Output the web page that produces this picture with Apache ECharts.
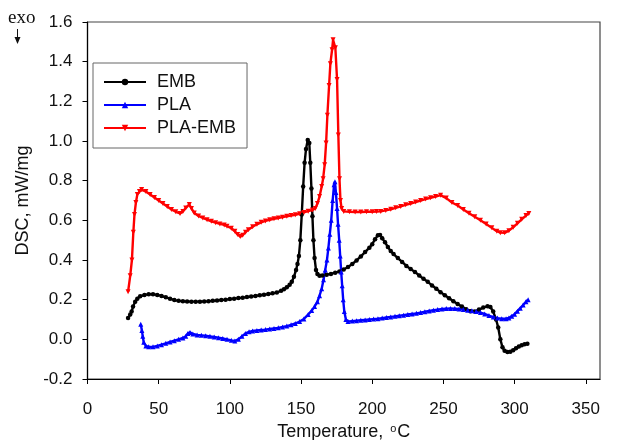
<!DOCTYPE html>
<html>
<head>
<meta charset="utf-8">
<script src="https://cdn.jsdelivr.net/npm/echarts@6/dist/echarts.min.js"></script>
<style>html,body{margin:0;padding:0;background:#fff}#c{width:618px;height:440px}</style>
</head>
<body>
<div id="c"></div>
<script>
const xTicks = [0, 50, 100, 150, 200, 250, 300, 350];
const seriesNames = ['EMB', 'PLA', 'PLA-EMB'];

const embT = [28.5,30,31,32,33.5,35,37,40,43,46,49,52,55,58,61,64,67,70,73,76,79,82,85,88,91,94,97,100,103,106,109,112,115,118,121,124,127,130,133,136,138,140,142,143.5,145,146.5,147.5,148.5,149.5,150.5,151.5,152.5,153.5,154.7,155.8,156.5,157.3,158,158.7,159.5,160.5,161.5,163,165,168,171,174,177,180,183,186,189,192,195,198,200,202,204,205.5,207,209,211,213,215,218,221,224,227,230,233,236,239,242,245,248,251,254,257,260,263,266,269,272,275,278,281,283,285,287,288.5,290,291.5,293,295,297,299,301,303,305,307,309];
const embV = [0.108,0.125,0.14,0.165,0.19,0.205,0.217,0.224,0.227,0.227,0.224,0.219,0.212,0.205,0.198,0.194,0.192,0.191,0.19,0.19,0.19,0.191,0.192,0.194,0.196,0.198,0.2,0.203,0.205,0.208,0.21,0.213,0.216,0.219,0.222,0.225,0.228,0.232,0.236,0.245,0.252,0.262,0.275,0.29,0.315,0.35,0.38,0.42,0.5,0.63,0.77,0.89,0.96,1.005,0.99,0.89,0.76,0.62,0.5,0.41,0.35,0.33,0.32,0.322,0.326,0.33,0.336,0.342,0.352,0.365,0.38,0.398,0.418,0.44,0.462,0.48,0.505,0.525,0.526,0.51,0.49,0.465,0.445,0.43,0.41,0.39,0.37,0.355,0.34,0.322,0.305,0.29,0.272,0.255,0.238,0.222,0.207,0.192,0.178,0.165,0.152,0.142,0.14,0.15,0.16,0.167,0.163,0.14,0.1,0.06,0.0,-0.04,-0.058,-0.064,-0.062,-0.055,-0.045,-0.036,-0.03,-0.025,-0.022];

const plaT = [37.4,38.2,38.8,39.5,41,43,46,49,52,55,58,61,64,67,69,70.5,72,74,77,80,83,86,89,92,95,98,101,103.5,106,108.5,111,113.5,116,119,122,125,128,131,134,137,140,143,146,149,152,155,157.5,159.5,161.5,163,164.5,165.8,167,168.2,169.2,170.2,171.2,172.2,173.2,173.8,174.5,175.3,176,176.8,177.5,178.2,178.9,179.6,180.4,181.5,183,186,189,192,195,198,201,204,207,210,213,216,219,222,225,228,231,234,237,240,243,246,249,252,255,258,261,264,267,270,273,276,279,282,285,288,291,294,296,298,300,302,304,306,308,309.5];
const plaV = [0.076,0.045,0.015,-0.015,-0.033,-0.038,-0.038,-0.033,-0.027,-0.02,-0.013,-0.007,0.0,0.007,0.015,0.03,0.035,0.027,0.022,0.02,0.018,0.015,0.012,0.008,0.004,0.0,-0.005,-0.008,0.0,0.015,0.03,0.038,0.042,0.045,0.047,0.049,0.052,0.055,0.058,0.062,0.067,0.073,0.08,0.09,0.103,0.125,0.145,0.165,0.19,0.22,0.255,0.3,0.35,0.4,0.46,0.53,0.6,0.7,0.78,0.795,0.74,0.66,0.58,0.5,0.42,0.34,0.27,0.2,0.14,0.1,0.09,0.092,0.094,0.096,0.098,0.1,0.102,0.104,0.107,0.11,0.113,0.116,0.119,0.122,0.125,0.128,0.131,0.135,0.139,0.143,0.147,0.15,0.153,0.155,0.156,0.155,0.153,0.15,0.147,0.144,0.14,0.135,0.128,0.12,0.112,0.107,0.104,0.104,0.108,0.117,0.127,0.142,0.157,0.173,0.19,0.2];

const pembT = [28.5,30,31.2,32.2,33,34,35,36.5,38,41,44,47,50,53,56,59,62,65,67,69,71.5,73,75,78,81,84,87,90,93,96,98,101,103.5,105.5,107.3,109,111,113,116,119,122,125,128,131,134,137,140,143,146,149,152,155,158,160,161.5,163,164.5,165.5,166.6,167.6,168.5,169.7,170.6,171.8,172.5,174.1,175.3,176.2,177,177.7,178.5,180,184,188,192,196,200,203,206,209.5,213,216.5,220,223.5,227,230.5,234,237.5,241,244.5,248,252,256,260,264,268,272,276,280,284,287.5,290,293,296,299,302,305,308,310];
const pembV = [0.24,0.32,0.4,0.54,0.63,0.69,0.73,0.745,0.755,0.745,0.73,0.715,0.7,0.685,0.67,0.655,0.643,0.635,0.645,0.662,0.68,0.66,0.637,0.622,0.612,0.603,0.595,0.588,0.582,0.577,0.57,0.56,0.545,0.528,0.518,0.525,0.54,0.553,0.568,0.58,0.59,0.597,0.603,0.608,0.612,0.616,0.62,0.624,0.628,0.633,0.64,0.646,0.652,0.66,0.685,0.72,0.77,0.81,0.88,0.99,1.13,1.28,1.39,1.46,1.51,1.47,1.31,1.03,0.81,0.7,0.66,0.645,0.643,0.642,0.642,0.643,0.643,0.644,0.645,0.65,0.656,0.663,0.67,0.678,0.685,0.692,0.7,0.707,0.714,0.72,0.727,0.712,0.69,0.675,0.655,0.636,0.618,0.6,0.582,0.562,0.545,0.538,0.537,0.548,0.565,0.585,0.605,0.624,0.635];

function zip(t, v) { return t.map((x, i) => [x, v[i]]); }

const FONT = 'Liberation Sans, Arial, sans-serif';
const chart = echarts.init(document.getElementById('c'), null, { renderer: 'canvas' });

chart.setOption({
  animation: false,
  backgroundColor: '#fff',
  grid: { left: 87.5, right: 18, top: 22, bottom: 61, containLabel: false, outerBoundsMode: 'none', show: true, borderColor: '#444', borderWidth: 1.2, backgroundColor: 'transparent' },
  legend: {
    orient: 'vertical', left: 93, top: 63,
    data: seriesNames,
    itemWidth: 42, itemHeight: 8, itemGap: 3,
    padding: [9, 11, 10, 10],
    borderColor: '#666', borderWidth: 1,
    backgroundColor: '#fff',
    textStyle: { fontFamily: FONT, fontSize: 18, color: '#111', lineHeight: 20, padding: [0, 0, 0, 6] }
  },
  xAxis: {
    type: 'value', min: 0, max: 360, interval: 50,
    name: 'Temperature, {sup|o}C', nameLocation: 'middle', nameGap: 44,
    nameTextStyle: { fontFamily: FONT, fontSize: 18, color: '#111', rich: { sup: { fontFamily: FONT, fontSize: 11, verticalAlign: 'top', padding: [0, 1, 8, 2] } } },
    axisLine: { show: true, onZero: false, lineStyle: { color: '#000', width: 1.2 } },
    axisTick: { show: true, inside: false, length: 5, lineStyle: { color: '#000' }, customValues: xTicks },
    axisLabel: { fontFamily: FONT, fontSize: 17, color: '#111', margin: 22, customValues: xTicks },
    splitLine: { show: false }
  },
  yAxis: {
    type: 'value', min: -0.2, max: 1.6, interval: 0.2,
    name: 'DSC, mW/mg', nameLocation: 'middle', nameGap: 42,
    nameTextStyle: { fontFamily: FONT, fontSize: 18, color: '#111' },
    axisLine: { show: true, onZero: false, lineStyle: { color: '#000', width: 1.2 } },
    axisTick: { show: true, inside: false, length: 5, lineStyle: { color: '#000' } },
    axisLabel: { fontFamily: FONT, fontSize: 17, color: '#111', margin: 15, formatter: v => v.toFixed(1) },
    splitLine: { show: false }
  },
  graphic: [
    { type: 'text', left: 8, top: 9, style: { text: 'exo', fontFamily: 'Liberation Serif, Times New Roman, serif', fontSize: 19, fill: '#111' } },
    { type: 'line', shape: { x1: 17.5, y1: 29, x2: 17.5, y2: 42 }, style: { stroke: '#111', lineWidth: 1 } },
    { type: 'polygon', shape: { points: [[14.5, 37], [20.5, 37], [17.5, 44]] }, style: { fill: '#111' } }
  ],
  series: [
    { name: 'EMB', type: 'line', data: zip(embT, embV), color: '#000', symbol: 'circle', symbolSize: 4.5, showAllSymbol: true, lineStyle: { width: 2.4, color: '#000' }, itemStyle: { color: '#000' } },
    { name: 'PLA', type: 'line', data: zip(plaT, plaV), color: '#0000ff', symbol: 'triangle', symbolSize: 5, showAllSymbol: true, lineStyle: { width: 2.4, color: '#0000ff' }, itemStyle: { color: '#0000ff' } },
    { name: 'PLA-EMB', type: 'line', data: zip(pembT, pembV), color: '#ff0000', symbol: 'triangle', symbolRotate: 180, symbolSize: 5, showAllSymbol: true, lineStyle: { width: 2.4, color: '#ff0000' }, itemStyle: { color: '#ff0000' } }
  ]
});
</script>
</body>
</html>
